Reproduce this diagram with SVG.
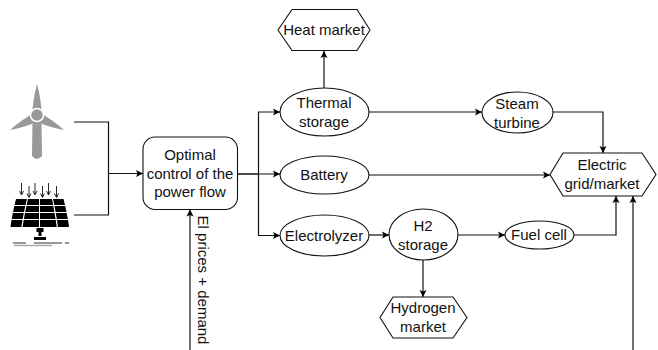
<svg xmlns="http://www.w3.org/2000/svg" width="658" height="350" viewBox="0 0 658 350">
<style>
text{font-family:"Liberation Sans",Arial,sans-serif;font-size:15px;fill:#111;text-anchor:middle}
.s{fill:#fff;stroke:#111;stroke-width:1.1}
.c{fill:none;stroke:#111;stroke-width:1.2}
.g{fill:#999;stroke:none}
.k{fill:#000;stroke:none}
.t{fill:none;stroke:#111;stroke-width:.9}
</style>
<defs>
<marker id="a" markerUnits="userSpaceOnUse" markerWidth="8" markerHeight="8" refX="7" refY="4" orient="auto"><path d="M0 .5L7 4L0 7.5L1.5 4Z" fill="#000"/></marker>
</defs>
<rect width="658" height="350" fill="#fff"/>
<g id="connectors">
<path class="c" d="M74 122H108.500V215H74"/>
<path class="c" d="M108.500 173.500H143" marker-end="url(#a)"/>
<path class="c" d="M237.500 174H258.500V112H280" marker-end="url(#a)"/>
<path class="c" d="M237.500 174H280" marker-end="url(#a)"/>
<path class="c" d="M258.500 174V235.500H280" marker-end="url(#a)"/>
<path class="c" d="M324 88V51" marker-end="url(#a)"/>
<path class="c" d="M369 112H482" marker-end="url(#a)"/>
<path class="c" d="M553 112H603V153" marker-end="url(#a)"/>
<path class="c" d="M369 175H550" marker-end="url(#a)"/>
<path class="c" d="M369 235H389" marker-end="url(#a)"/>
<path class="c" d="M458 235H505" marker-end="url(#a)"/>
<path class="c" d="M574 235H616V196" marker-end="url(#a)"/>
<path class="c" d="M423 260V297" marker-end="url(#a)"/>
<path class="c" d="M190 350V209.500" marker-end="url(#a)"/>
<path class="c" d="M633 350V196" marker-end="url(#a)"/>
</g>
<g id="wind">
<path class="g" d="M37 84C40 95 41.500 106 42 116H32C32.500 106 34 95 37 84Z"/>
<path class="g" d="M10 130C17 123.500 24 119 31 114.500L35.500 122.500C27 126 18 128.800 10 130Z"/>
<path class="g" d="M64 130C57 123.500 50 119 43 114.500L38.500 122.500C47 126 56 128.800 64 130Z"/>
<path class="g" d="M32.500 122H41.500L42 156Q37 162 32 156Z"/>
<circle cx="37" cy="115" r="6.500" fill="#999" stroke="#fff" stroke-width="1.600"/>
</g>
<g id="solar">
<path class="t" d="M21.500 183V194M19.500 191L21.500 195L23.500 191M29 186V197M27 193.500L29 197.500L31 193.500M35 183V194M33 191L35 195L37 191M42.500 186V197M40.500 193.500L42.500 197.500L44.500 193.500M48.500 183V194M46.500 191L48.500 195L50.500 191M56.500 186V197M54.500 193.500L56.500 197.500L58.500 193.500"/>
<path class="k" d="M16 199H27L25.500 205H14.500ZM28 199H39V205H26.700ZM40 199H52L53.200 205H40ZM53 199H63.500L65 205H54.300ZM14.300 206H25.300L24 212H13ZM26.500 206H39V212H25.200ZM40 206H53.300L54.400 212H40ZM54.500 206H65.200L66.500 212H55.600ZM12.800 213H23.800L22.700 219H11.700ZM25 213H39V219H23.900ZM40 213H54.500L55.600 219H40ZM55.700 213H66.700L67.800 219H56.800ZM11.500 220H22.500L21.300 227H10.500ZM23.700 220H39V227H22.500ZM40 220H55.700L56.800 227H40ZM57 220H68L69 227H58Z"/>
<path class="k" d="M36.500 228H43.500V232H41.500V236H38.500V232H36.500ZM34 237H46V240H34Z"/>
<path d="M13 243H26M34 243H62M65 243H69" stroke="#333" stroke-width="1" fill="none"/>
<path d="M14 245.500H52" stroke="#aaa" stroke-width="1.300" fill="none"/>
</g>
<g id="control">
<rect class="s" x="143" y="137" width="94.500" height="72.500" rx="12" ry="12"/>
<text x="190" y="160">Optimal</text><text x="190" y="178.500">control of the</text><text x="190" y="197">power flow</text>
</g>
<g id="heat-market">
<path class="s" d="M292 9.500H357L370 30L357 50.500H292L278 30Z"/>
<text x="324" y="35">Heat market</text>
</g>
<g id="thermal-storage">
<ellipse class="s" cx="324.500" cy="112" rx="44.500" ry="24"/>
<text x="324" y="108">Thermal</text><text x="324" y="126.500">storage</text>
</g>
<g id="battery">
<ellipse class="s" cx="324.500" cy="175" rx="44.500" ry="19"/>
<text x="324" y="180">Battery</text>
</g>
<g id="electrolyzer">
<ellipse class="s" cx="324.500" cy="235.500" rx="44.500" ry="20.500"/>
<text x="324" y="240.500">Electrolyzer</text>
</g>
<g id="h2-storage">
<ellipse class="s" cx="423.500" cy="234.500" rx="34.500" ry="25.500"/>
<text x="423" y="231">H2</text><text x="423" y="249.500">storage</text>
</g>
<g id="hydrogen-market">
<path class="s" d="M393 297H453L467 317.500L453 338H393L380 317.500Z"/>
<text x="423" y="313">Hydrogen</text><text x="423" y="331.500">market</text>
</g>
<g id="steam-turbine">
<ellipse class="s" cx="517.500" cy="112.500" rx="35.500" ry="20.500"/>
<text x="517" y="109">Steam</text><text x="517" y="127.500">turbine</text>
</g>
<g id="fuel-cell">
<ellipse class="s" cx="539.500" cy="235" rx="34.500" ry="14"/>
<text x="539" y="240">Fuel cell</text>
</g>
<g id="electric-market">
<path class="s" d="M563 153H642L656 174.500L642 196H563L550 174.500Z"/>
<text x="602" y="170">Electric</text><text x="602" y="189">grid/market</text>
</g>
<text transform="translate(198,280) rotate(90)">El prices + demand</text>
</svg>
